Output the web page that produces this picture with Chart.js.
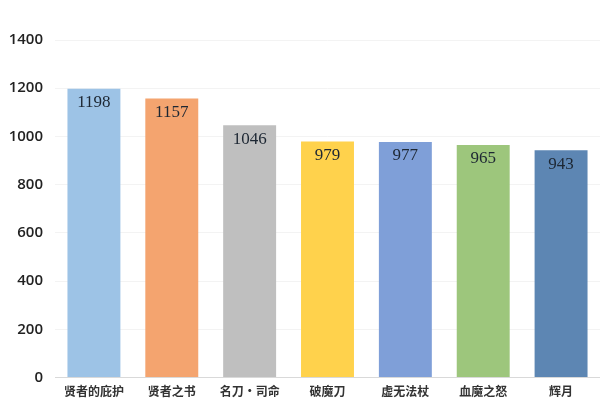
<!DOCTYPE html>
<html>
<head>
<meta charset="utf-8">
<script src="https://cdn.jsdelivr.net/npm/chart.js@4.4.0/dist/chart.umd.min.js"></script>
<style>
  html, body { margin: 0; padding: 0; background: #fff; }
  #wrap { width: 600px; height: 407px; }
</style>
</head>
<body>
<div id="wrap"><canvas id="items_chart"></canvas></div>
<script>
var items = ["贤者的庇护", "贤者之书", "名刀·司命", "破魔刀", "虚无法杖", "血魔之怒", "辉月"];
var counts = [1198, 1157, 1046, 979, 977, 965, 943];
var yTicks = [0, 200, 400, 600, 800, 1000, 1200, 1400];

var colors = ["#9DC3E6", "#F4A46F", "#BFBFBF", "#FFD24C", "#7F9FD8", "#9DC67C", "#5D86B3"];

// value printed just under the top of each bar
var valueLabels = {
  id: 'valueLabels',
  afterDatasetsDraw: function (chart) {
    var ctx = chart.ctx;
    var meta = chart.getDatasetMeta(0);
    ctx.save();
    ctx.font = '17px "Liberation Serif", "DejaVu Serif", serif';
    ctx.fillStyle = "#1d2733";
    ctx.textAlign = "center";
    ctx.textBaseline = "middle";
    meta.data.forEach(function (bar, i) {
      ctx.fillText(counts[i], bar.x, bar.y + 14);
    });
    ctx.restore();
  }
};

var ctx = document.getElementById('items_chart').getContext("2d");
var chartInstance = new Chart(ctx, {
  type: 'bar',
  data: {
    labels: items,
    datasets: [{
      data: counts,
      backgroundColor: colors,
      borderWidth: 0,
      barPercentage: 0.68,
      categoryPercentage: 1
    }]
  },
  options: {
    responsive: true,
    maintainAspectRatio: false,
    animation: false,
    layout: { padding: { top: 40, right: 0, left: 0, bottom: 1 } },
    plugins: {
      legend: { display: false },
      tooltip: { enabled: false }
    },
    scales: {
      x: {
        grid: { display: false, drawTicks: false },
        border: { display: true, color: "#d9d9d9", width: 1 },
        ticks: {
          color: "#333",
          padding: 7,
          maxRotation: 0,
          autoSkip: false,
          font: { family: '"Noto Sans CJK SC", sans-serif', size: 12, weight: 'bold' }
        }
      },
      y: {
        min: 0,
        max: 1400,
        afterBuildTicks: function (axis) {
          axis.ticks = yTicks.map(function (v) { return { value: v }; });
        },
        afterFit: function (axis) { axis.width = 55; },
        grid: { color: "#f3f3f3", drawTicks: false },
        border: { display: false },
        ticks: {
          color: "#222",
          padding: 12,
          callback: function (v) { return String(v); },
          font: { family: '"Open Sans", "Noto Sans", sans-serif', size: 15, weight: '600' }
        }
      }
    }
  },
  plugins: [valueLabels]
});
</script>
</body>
</html>
